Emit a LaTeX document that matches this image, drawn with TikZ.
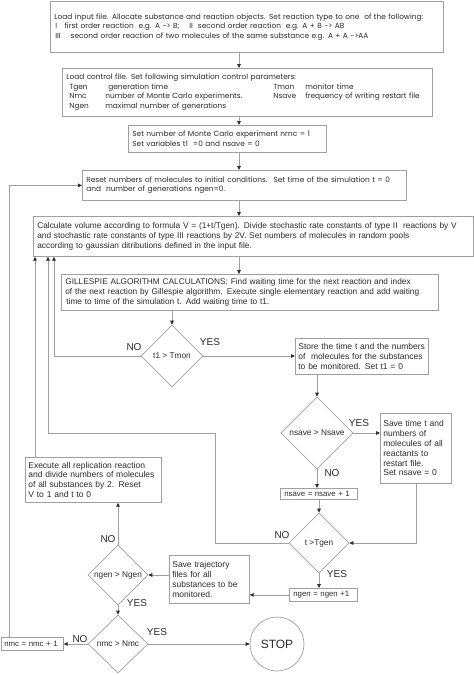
\documentclass[tikz,border=0pt]{standalone}
\usepackage{fontspec}
\setmainfont{Liberation Sans}
\newfontfamily\gothic{Poppins}
\usetikzlibrary{arrows.meta,shapes.geometric,calc}
\definecolor{lc}{HTML}{A0A0A0}
\definecolor{tc}{HTML}{2A2A2A}
\begin{document}
\begin{tikzpicture}[x=1pt,y=-1pt,
 box/.style={draw=lc, line width=0.7pt, rectangle, anchor=north west, inner xsep=4pt, inner ysep=1pt, align=left, text=tc, font=\fontsize{8.3}{9.8}\selectfont},
 sbox/.style={box, inner xsep=3pt, font=\fontsize{8.5}{9.8}\selectfont},
 tbox/.style={box, font=\fontsize{7.8}{9}\selectfont},
 gbox/.style={box, font=\gothic\fontsize{7.4}{9.6}\selectfont},
 dia/.style={draw=lc, line width=0.7pt, diamond, inner sep=0pt},
 dtext/.style={text=tc, inner sep=0pt, font=\fontsize{8.3}{9}\selectfont},
 lab/.style={text=tc, inner sep=0pt, font=\fontsize{10}{11}\selectfont},
 arr/.style={draw=lc, line width=0.7pt, -{Triangle[length=4pt,width=3.6pt,color=tc]}}]
\useasboundingbox (0,0) rectangle (474,675);
% main boxes
\node[gbox, text width=385pt, minimum height=51pt] (b1) at (50,1) {Load input file. Allocate substance and reaction objects. Set reaction type to one~ of the following:\\
\hspace*{1pt}I~~ first order reaction~ e.g. A -> B;~~~ II~ second order reaction~ e.g. A + B -> AB\\
\hspace*{1pt}III~~~ second order reaction of two molecules of the same substance e.g. A + A ->AA};
\node[gbox, text width=362pt, minimum height=48pt] (b2) at (62,68) {Load control file. Set following simulation control parameters:\\
\hspace*{3pt}\makebox[36pt][l]{Tgen}\makebox[168pt][l]{\hspace{3pt}generation time}\makebox[32pt][l]{Tmon}monitor time\\
\hspace*{3pt}\makebox[36pt][l]{Nmc}\makebox[168pt][l]{number of Monte Carlo experiments.}\makebox[32pt][l]{Nsave}frequency of writing restart file\\
\hspace*{3pt}\makebox[36pt][l]{Ngen}maximal number of generations};
\node[gbox, text width=190pt, minimum height=27pt] (b3) at (128,125) {Set number of Monte Carlo experiment nmc = 1\\
Set variables t1~ =0 and nsave = 0};
\node[gbox, text width=316pt, minimum height=30pt] (reset) at (82,170) {Reset numbers of molecules to initial conditions.~ Set time of the simulation t = 0\\
and~ number of generations ngen=0.};
\node[box, text width=432pt, minimum height=40pt] (calc) at (33,216) {\mbox{Calculate volume according to formula V = (1+t/Tgen). Divide stochastic rate constants of type II~ reactions by V}\\
and stochastic rate constants of type III reactions by 2V. Set numbers of molecules in random pools\\
according to gaussian ditributions defined in the input file.};
\node[box, text width=369pt, minimum height=36pt] (gill) at (61,274) {GILLESPIE ALGORITHM CALCULATIONS: Find waiting time for the next reaction and index\\
\mbox{of the next reaction by Gillespie algorithm. Execute single elementary reaction and add waiting}\\
\hspace*{1pt}time to time of the simulation t. Add waiting time to t1.};
\node[sbox, text width=127pt, minimum height=36pt] (store) at (295,338) {\mbox{Store the time t and the numbers}\\
\mbox{of~ molecules for the substances}\\
to be monitored. Set t1 = 0};
\node[sbox, text width=65pt, minimum height=70pt] (save) at (380,413) {\mbox{Save time t and}\\numbers of\\\mbox{molecules of all}\\reactants to\\restart file.\\\mbox{Set nsave = 0}};
\node[tbox, text width=69pt, minimum height=11pt] (nsave1) at (280,488) {nsave = nsave + 1};
\node[sbox, text width=130pt, minimum height=45pt] (exec) at (25,457) {\mbox{Execute all replication reaction}\\
\mbox{and divide numbers of molecules}\\
\mbox{of all substances by 2. Reset}\\
V to 1 and t to 0};
\node[sbox, text width=74pt, minimum height=48pt] (traj) at (169,555) {Save trajectory\\files for all\\\mbox{substances to be}\\monitored.};
\node[tbox, text width=60pt, minimum height=13pt] (ngen) at (289,588) {ngen = ngen +1};
\node[tbox, text width=56pt, minimum height=13pt, inner xsep=3pt] (nmc) at (1,637) {nmc = nmc + 1};
% decisions
\node[dia, minimum width=62pt, minimum height=62pt] (d1) at (172,356) {};
\node[dtext] (d1t) at (d1) {t1 > Tmon};
\node[dia, minimum width=72pt, minimum height=72pt] (d2) at (317,433) {};
\node[dtext] (d2t) at (d2) {nsave > Nsave};
\node[dia, minimum width=60pt, minimum height=60pt] (d3) at (319,543) {};
\node[dtext] (d3t) at (d3) {t >Tgen};
\node[dia, minimum width=60pt, minimum height=60pt] (d4) at (118,575) {};
\node[dtext] (d4t) at (d4) {ngen > Ngen};
\node[dia, minimum width=60pt, minimum height=58pt] (d5) at (118,644) {};
\node[dtext] (d5t) at (d5) {nmc > Nmc};
\node[circle, draw=lc, line width=0.7pt, minimum size=54pt, inner sep=0pt, text=tc, font=\fontsize{12}{13}\selectfont] (stop) at (277,644) {STOP};
% labels
\node[lab] (l1n) at (134,347) {NO};
\node[lab] (l1y) at (210,342) {YES};
\node[lab] (l2y) at (359,423) {YES};
\node[lab] (l2n) at (332,473) {NO};
\node[lab] (l3n) at (282,535) {NO};
\node[lab] (l3y) at (337,574) {YES};
\node[lab] (l4n) at (108,539) {NO};
\node[lab] (l4y) at (137,603) {YES};
\node[lab] (l5n) at (80,639) {NO};
\node[lab] (l5y) at (157,632) {YES};
% helper coordinates
\coordinate (xa) at (239,0);
\coordinate (xl) at (9,0);
\coordinate (xe) at (35,0);
\coordinate (xn3) at (48,0);
\coordinate (xn1) at (54,0);
\coordinate (k3) at (215,433);
% connectors
\draw[arr] (b1.south -| xa) -- (b2.north -| xa);
\draw[arr] (b2.south -| xa) -- (b3.north -| xa);
\draw[arr] (b3.south -| xa) -- (reset.north -| xa);
\draw[arr] (reset.south -| xa) -- (calc.north -| xa);
\draw[arr] (calc.south -| xa) -- (gill.north -| xa);
\draw[arr] (gill.south -| d1.north) -- (d1.north);
\draw[arr] (d1.west) -| (xn1 |- calc.south);
\draw[arr] (d1.east) -- (d1.east -| store.west);
\draw[arr] (store.south -| d2.north) -- (d2.north);
\draw[arr] (d2.east) -- (d2.east -| save.west);
\draw[arr] (d2.south) -- (d2.south |- nsave1.north);
\draw[arr] (nsave1.south -| d3.north) -- (d3.north);
\draw[arr] (save.south) |- (d3.east);
\draw[arr] (d3.west) -| (k3) -| (xn3 |- calc.south);
\draw[arr] (d3.south) -- (d3.south |- ngen.north);
\draw[arr] (ngen.west) -- (ngen.west -| traj.east);
\draw[arr] (d4.east -| traj.west) -- (d4.east);
\draw[arr] (d4.north) -- (d4.north |- exec.south);
\draw[arr] (exec.north -| xe) -- (xe |- calc.south);
\draw[arr] (d4.south) -- (d5.north);
\draw[arr] (d5.west) -- (d5.west -| nmc.east);
\draw[arr] (d5.east) -- (stop.west);
\draw[arr] (nmc.north -| xl) |- (reset.west);
\end{tikzpicture}
\end{document}
